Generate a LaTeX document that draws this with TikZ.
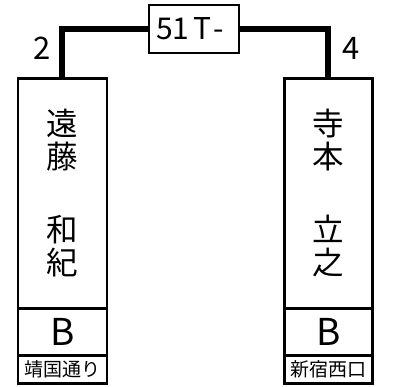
\documentclass[tikz,border=0pt]{standalone}
\usepackage{fontspec}
\newfontfamily\cjk{Noto Sans CJK JP}
\newcommand\tightlines{\lineskiplimit=-100pt\relax\lineskip=0pt\relax}
\begin{document}
\begin{tikzpicture}[x=1pt,y=-1pt,
  box/.style={draw,line width=2.6pt,inner sep=0pt,anchor=north west,minimum width=89pt},
  topbox/.style={draw,line width=1.6pt,inner sep=0pt,minimum width=90pt,minimum height=48pt},
  wire/.style={line width=5.5pt},
  namefont/.style={font=\cjk\fontsize{31.5}{33}\selectfont\tightlines,align=center},
  bfont/.style={font=\cjk\fontsize{37}{37}\selectfont},
  smallfont/.style={font=\cjk\fontsize{19}{19}\selectfont},
  numfont/.style={font=\cjk\fontsize{31}{31}\selectfont}]
\useasboundingbox (0,0) rectangle (407,387);
% top box
\node[topbox] (t) at (194,29) {};
\node[font=\cjk\fontsize{30}{30}\selectfont,anchor=west,inner sep=0pt] (tl) at (156,29) {51\hspace{4pt}T\hspace{2pt}-};
% left column
\node[box,minimum height=230pt,namefont] (ln) at (16.5,77) {遠\\藤\\[40pt]和\\紀};
\node[box,minimum height=47pt,bfont] (lb) at (16.5,307) {B};
\node[box,minimum height=28pt,smallfont] (ll) at (16.5,354) {靖国通り};
% right column
\node[box,minimum height=230pt,namefont,minimum width=88pt] (rn) at (283,77) {寺\\本\\[40pt]立\\之};
\node[box,minimum height=47pt,bfont,minimum width=88pt] (rb) at (283,307) {B};
\node[box,minimum height=28pt,smallfont,minimum width=88pt] (rl) at (283,354) {新宿西口};
% wires
\coordinate (lc) at (62,77);
\coordinate (rc) at (328,77);
\draw[wire] (t.west) -| (lc);
\draw[wire] (t.east) -| (rc);
% numbers
\node[numfont] (n2) at (42,48) {2};
\node[numfont] (n4) at (351,48) {4};
\end{tikzpicture}
\end{document}
